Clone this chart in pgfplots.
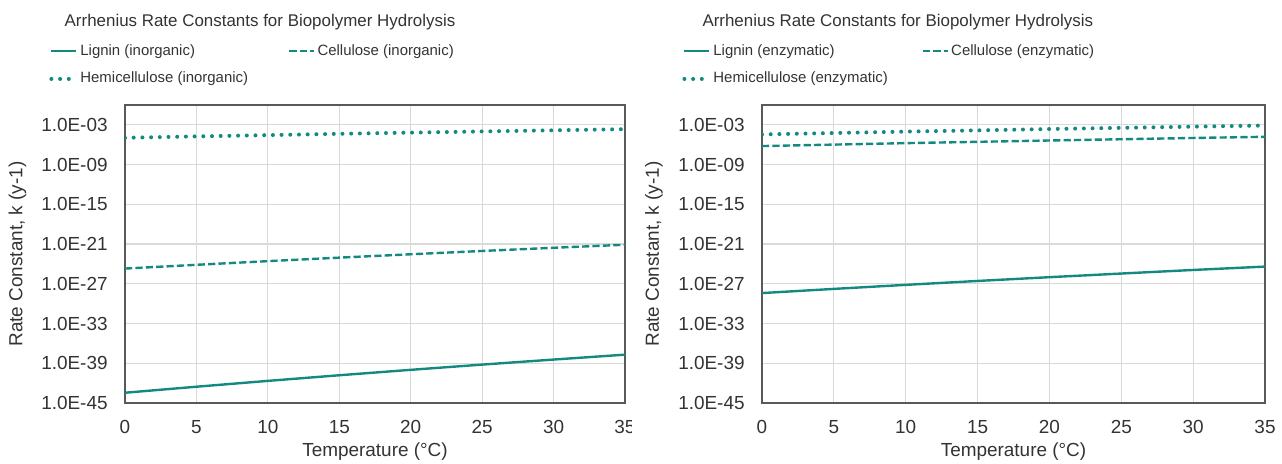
\documentclass[border=0pt]{standalone}
\usepackage{fontspec}
\setmainfont{Liberation Sans}
\usepackage{pgfplots}
\pgfplotsset{compat=1.18}

\definecolor{lineteal}{HTML}{138A80}
\definecolor{gridgray}{HTML}{D9D9D9}
\definecolor{framegray}{HTML}{595959}
\definecolor{labelgray}{HTML}{333333}

\pgfplotsset{
  rateaxis/.style={
    scale only axis, width=250bp, height=149bp,
    xmin=0, xmax=35, xtick={0,5,...,35},
    ymin=1e-45, ymax=1,
    ytick={1e-45,1e-39,1e-33,1e-27,1e-21,1e-15,1e-9,1e-3},
    yticklabels={1.0E-45,1.0E-39,1.0E-33,1.0E-27,1.0E-21,1.0E-15,1.0E-09,1.0E-03},
    grid=major, major grid style={draw=gridgray, line width=0.6bp},
    axis line style={draw=framegray, line width=1bp},
    major tick length=0pt, minor tick length=0pt,
    tick label style={font=\fontsize{9.5}{11}\selectfont, text=labelgray, inner sep=0pt},
    x tick label style={anchor=center, yshift=-12bp},
    y tick label style={anchor=east, xshift=-8.5bp},
    xlabel={Temperature (°C)},
    ylabel={Rate Constant, k (y-1)},
    label style={font=\fontsize{9.5}{11}\selectfont, text=labelgray},
    xlabel style={at={(axis description cs:0.5,-0.164)}, anchor=center},
    ylabel style={at={(axis description cs:-0.215,0.5)}, anchor=center},
    title={Arrhenius Rate Constants for Biopolymer Hydrolysis},
    title style={at={(axis description cs:0.27,1.238)}, anchor=center, yshift=0pt,
      font=\fontsize{8.5}{10}\selectfont, text=labelgray},
    legend columns=2,
    legend cell align=left,
    legend image code/.code={\draw[##1] (0bp,0bp) -- (12.5bp,0bp);},
    legend style={anchor=north west, draw=none, fill=none, inner sep=0pt,
      font=\fontsize{7.5}{9}\selectfont, text=labelgray, row sep=5bp,
      nodes={inner sep=1bp}},
  },
  lig/.style={draw=lineteal, line width=1.2bp},
  cel/.style={draw=lineteal, line width=1.2bp, dash pattern=on 3.6bp off 1.6bp},
  hem/.style={draw=lineteal, line width=2bp, line cap=round, dash pattern=on 0bp off 4.35bp},
}
\pgfplotsset{/pgf/number format/assume math mode=true}

\begin{document}
\begin{tikzpicture}
\path[use as bounding box] (-62.5bp,-30.5bp) rectangle (578.5bp,201.5bp);

\begin{axis}[rateaxis, ymode=log,
  legend style={at={(axis description cs:-0.152,1.212)}}]
\addplot[lig] coordinates {(0,3.55e-44) (5,2.88e-43) (10,2.19e-42) (15,1.55e-41)
  (20,1.02e-40) (25,6.31e-40) (30,3.63e-39) (35,2.00e-38)};
\addlegendentry{Lignin (inorganic)}
\addplot[cel] coordinates {(0,2.00e-25) (5,7.41e-25) (10,2.63e-24) (15,8.91e-24)
  (20,2.88e-23) (25,9.12e-23) (30,2.75e-22) (35,7.94e-22)};
\addlegendentry{Cellulose (inorganic)}
\addplot[hem] coordinates {(0,1.12e-5) (5,1.82e-5) (10,2.82e-5) (15,4.47e-5)
  (20,6.76e-5) (25,1.02e-4) (30,1.51e-4) (35,2.24e-4)};
\addlegendentry{Hemicellulose (inorganic)\rule{19bp}{0pt}}
\end{axis}

% the left chart is cut off just right of its last tick label
\fill[white] (253.5bp,-22bp) rectangle (262bp,-3bp);

\begin{axis}[rateaxis, ymode=log, at={(318.5bp,0bp)}, width=251.5bp,
  legend style={at={(axis description cs:-0.159,1.212)}}]
\addplot[lig] coordinates {(0,3.98e-29) (5,1.70e-28) (10,6.92e-28) (15,2.69e-27)
  (20,1.00e-26) (25,3.55e-26) (30,1.23e-25) (35,3.98e-25)};
\addlegendentry{Lignin (enzymatic)}
\addplot[cel] coordinates {(0,6.31e-7) (5,1.05e-6) (10,1.74e-6) (15,2.75e-6)
  (20,4.37e-6) (25,6.76e-6) (30,1.05e-5) (35,1.58e-5)};
\addlegendentry{Cellulose (enzymatic)}
\addplot[hem] coordinates {(0,3.63e-5) (5,5.89e-5) (10,9.55e-5) (15,1.48e-4)
  (20,2.34e-4) (25,3.55e-4) (30,5.37e-4) (35,7.94e-4)};
\addlegendentry{Hemicellulose (enzymatic)\rule{16bp}{0pt}}
\end{axis}
\end{tikzpicture}
\end{document}
